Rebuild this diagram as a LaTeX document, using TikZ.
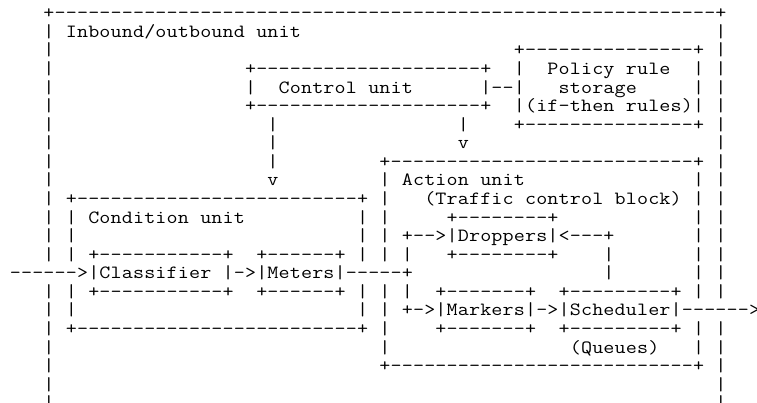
\documentclass[tikz,border=0pt]{standalone}
\usepackage{graphicx}

% Fixed-pitch character cells: every glyph sits in a box of one cell width,
% widened a little to give the letters a courier-like breadth
\newlength\cellw
\setlength\cellw{8.4pt}
\ExplSyntaxOn
\NewDocumentCommand \cellglyph { m }
  { \makebox [ \cellw ] [ c ] { \scalebox { 1.15 } [ 1 ] { #1 } } }
\NewDocumentCommand \cellrow { m }
  { \str_map_inline:nn { #1 } { \cellglyph { ##1 } } }
\NewDocumentCommand \cellrun { m m }
  { \prg_replicate:nn { #1 } { \cellglyph { #2 } } }
\ExplSyntaxOff

\tikzset{
  glyphs/.style={anchor=west, inner sep=0pt, outer sep=0pt,
    text height=10.5pt, text depth=3.435pt,
    font=\ttfamily\fontsize{14pt}{14pt}\selectfont},
  crossing/.style={glyphs, fill=white},
}

% ASCII box: name, left column, top row, right column, bottom row
\newcommand\asciibox[5]{%
  \pgfmathtruncatemacro\boxinner{#4-#2-1}%
  \pgfmathtruncatemacro\boxfirst{#3+1}%
  \pgfmathtruncatemacro\boxlast{#5-1}%
  \node[glyphs] (#1-top) at (#2,#3) {\cellrow{+}\cellrun{\boxinner}{-}\cellrow{+}};
  \node[glyphs] (#1-bottom) at (#2,#5) {\cellrow{+}\cellrun{\boxinner}{-}\cellrow{+}};
  \foreach \r in {\boxfirst,...,\boxlast}{%
    \node[glyphs] (#1-left-\r) at (#2,\r) {\cellrow{|}};
    \node[glyphs] (#1-right-\r) at (#4,\r) {\cellrow{|}};
  }%
}

\begin{document}
\begin{tikzpicture}
\path[use as bounding box] (0pt,0pt) rectangle (567.75pt,-302.25pt);
\begin{scope}[x=8.4pt, y=-13.935pt, shift={(7.35pt,-10.5pt)}]

  % outer frame (open at the bottom)
  \node[glyphs] (frame-top) at (3,0) {\cellrow{+}\cellrun{59}{-}\cellrow{+}};
  \foreach \r in {1,...,21}{%
    \node[glyphs] (frame-left-\r) at (3,\r) {\cellrow{|}};
    \node[glyphs] (frame-right-\r) at (63,\r) {\cellrow{|}};
  }
  \node[glyphs] (frame-label) at (5,1) {\cellrow{Inbound/outbound unit}};

  % units
  \asciibox{control}{21}{3}{42}{5}
  \node[glyphs] (control-label) at (24,4) {\cellrow{Control unit}};

  \asciibox{policy}{45}{2}{61}{6}
  \node[glyphs] (policy-label-a) at (48,3) {\cellrow{Policy rule}};
  \node[glyphs] (policy-label-b) at (49,4) {\cellrow{storage}};
  \node[glyphs] (policy-label-c) at (46,5) {\cellrow{(if-then rules)}};

  \asciibox{condition}{5}{10}{31}{17}
  \node[glyphs] (condition-label) at (7,11) {\cellrow{Condition unit}};

  \asciibox{action}{33}{8}{61}{19}
  \node[glyphs] (action-label-a) at (35,9) {\cellrow{Action unit}};
  \node[glyphs] (action-label-b) at (37,10) {\cellrow{(Traffic control block)}};

  \asciibox{classifier}{7}{13}{19}{15}
  \node[glyphs] (classifier-label) at (8,14) {\cellrow{Classifier}};

  \asciibox{meters}{22}{13}{29}{15}
  \node[glyphs] (meters-label) at (23,14) {\cellrow{Meters}};

  \asciibox{droppers}{39}{11}{48}{13}
  \node[glyphs] (droppers-label) at (40,12) {\cellrow{Droppers}};

  \asciibox{markers}{38}{15}{46}{17}
  \node[glyphs] (markers-label) at (39,16) {\cellrow{Markers}};

  \asciibox{scheduler}{49}{15}{59}{17}
  \node[glyphs] (scheduler-label) at (50,16) {\cellrow{Scheduler}};
  \node[glyphs] (queues-label) at (50,18) {\cellrow{(Queues)}};

  % control unit links
  \node[glyphs] (ctl-pol) at (43,4) {\cellrow{--}};
  \foreach \r in {6,7,8}{%
    \node[glyphs] (ctl-cond-\r) at (23,\r) {\cellrow{|}};
  }
  \node[glyphs] (ctl-cond-tip) at (23,9) {\cellrow{v}};
  \node[glyphs] (ctl-act) at (40,6) {\cellrow{|}};
  \node[glyphs] (ctl-act-tip) at (40,7) {\cellrow{v}};

  % traffic path
  \node[crossing] (in-arrow) at (0,14) {\cellrow{------>}};
  \node[glyphs] (cls-met) at (20,14) {\cellrow{->}};
  \node[crossing] (met-act) at (30,14) {\cellrow{-----+}};
  \node[glyphs] (split-up) at (35,13) {\cellrow{|}};
  \node[glyphs] (split-down) at (35,15) {\cellrow{|}};
  \node[glyphs] (to-droppers) at (35,12) {\cellrow{+-->}};
  \node[glyphs] (to-markers) at (35,16) {\cellrow{+->}};
  \node[glyphs] (from-sched) at (49,12) {\cellrow{<---+}};
  \node[glyphs] (from-sched-a) at (53,13) {\cellrow{|}};
  \node[glyphs] (from-sched-b) at (53,14) {\cellrow{|}};
  \node[glyphs] (mk-sch) at (47,16) {\cellrow{->}};
  \node[crossing] (out-arrow) at (60,16) {\cellrow{------>}};

\end{scope}
\end{tikzpicture}
\end{document}
